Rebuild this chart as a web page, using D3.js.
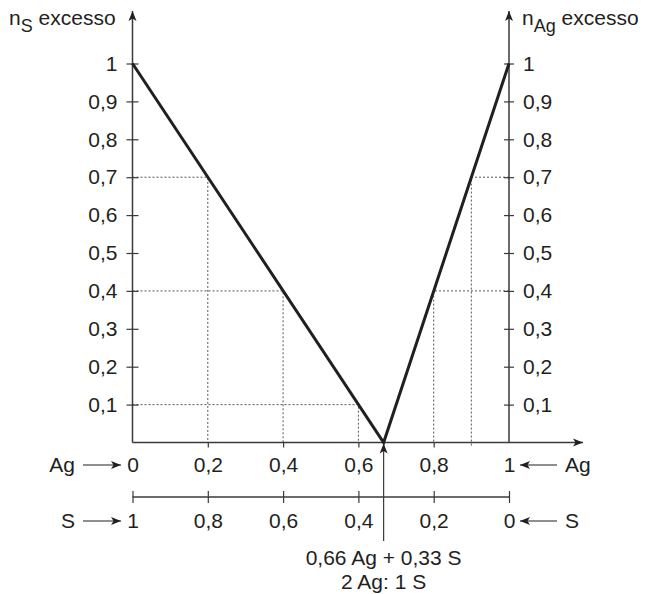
<!DOCTYPE html>
<html>
<head>
<meta charset="utf-8">
<script src="https://cdn.jsdelivr.net/npm/d3@7"></script>
<style>
  body { margin: 0; background: #fff; }
  text { font-family: "Liberation Sans", Arial, Helvetica, sans-serif; font-size: 21px; fill: #231f20; }
</style>
</head>
<body>
<script>

// data
var lineX = [0, 0.667, 1];          // fraction of Ag
var lineY = [1, 0, 1];              // excess amount
var yTicks = [0.1, 0.2, 0.3, 0.4, 0.5, 0.6, 0.7, 0.8, 0.9, 1];
var yTickLabels = ["0,1", "0,2", "0,3", "0,4", "0,5", "0,6", "0,7", "0,8", "0,9", "1"];
var agTicks = [0, 0.2, 0.4, 0.6, 0.8, 1];
var agTickLabels = ["0", "0,2", "0,4", "0,6", "0,8", "1"];
var sTickLabels = ["1", "0,8", "0,6", "0,4", "0,2", "0"];
// dotted guide lines: point on the line, and which y axis it runs to
var guideX = [0.2, 0.4, 0.6, 0.8, 0.9];
var guideY = [0.7, 0.4, 0.1, 0.4, 0.7];
var guideSide = ["left", "left", "left", "right", "right"];
var mixX = 0.667;
var mixLabels = ["0,66 Ag + 0,33 S", "2 Ag: 1 S"];

var W = 645, H = 594;
var x0 = 132.5, x1 = 509;       // left and right axes
var yTop = 63.5, yBase = 442.5;  // y = 1 and y = 0
var sAxisY = 497;

var xScale = d3.scaleLinear().domain([0, 1]).range([x0, x1]);
var yScale = d3.scaleLinear().domain([0, 1]).range([yBase, yTop]);

var svg = d3.select("body").append("svg")
    .attr("width", W)
    .attr("height", H);

var defs = svg.append("defs");
defs.append("marker")
    .attr("id", "arrow")
    .attr("viewBox", "0 0 10 10")
    .attr("refX", 10).attr("refY", 5)
    .attr("markerWidth", 10).attr("markerHeight", 10)
    .attr("markerUnits", "userSpaceOnUse")
    .attr("orient", "auto")
    .append("path")
    .attr("d", "M0,1 L10,5 L0,9 L2.5,5 Z")
    .attr("fill", "#231f20");

var axisColor = "#3a3a3a";

// dotted guides
svg.append("g").selectAll("path")
    .data(guideX.map(function(d, i) { return {x: d, y: guideY[i], side: guideSide[i]}; }))
    .enter().append("path")
    .attr("d", function(d) {
        var xa = d.side == "left" ? xScale(0) : xScale(1);
        var extra = d.x == 0.9 ? 5 : 0;
        return "M" + xa + "," + yScale(d.y) + "H" + xScale(d.x) + "V" + (yScale(0) + extra);
    })
    .attr("fill", "none")
    .attr("stroke", "#555")
    .attr("stroke-width", 1)
    .attr("stroke-dasharray", "2,2");

// left y axis
var yAxisL = d3.axisLeft(yScale).tickValues(yTicks)
    .tickFormat(function(d, i) { return yTickLabels[i]; })
    .tickSize(6).tickPadding(9);
var gl = svg.append("g").attr("transform", "translate(" + x0 + ",0)").call(yAxisL);

// right y axis
var yAxisR = d3.axisRight(yScale).tickValues(yTicks)
    .tickFormat(function(d, i) { return yTickLabels[i]; })
    .tickSize(5).tickPadding(9);
var gr = svg.append("g").attr("transform", "translate(" + x1 + ",0)").call(yAxisR);

// bottom Ag axis
var xAxis = d3.axisBottom(xScale).tickValues(agTicks)
    .tickFormat(function(d, i) { return agTickLabels[i]; })
    .tickSize(5).tickPadding(10);
var gx = svg.append("g").attr("transform", "translate(0," + yBase + ")").call(xAxis);

// S axis
var sAxis = d3.axisBottom(xScale).tickValues(agTicks)
    .tickFormat(function(d, i) { return sTickLabels[i]; })
    .tickSize(6).tickPadding(10);
var gs = svg.append("g").attr("transform", "translate(0," + sAxisY + ")").call(sAxis);

[gl, gr, gx, gs].forEach(function(g) {
    g.select(".domain").remove();
    g.selectAll(".tick line").attr("stroke", axisColor).attr("stroke-width", 1.2);
    g.attr("font-family", null).attr("font-size", null);
});
// ticks crossing the y axes
gl.selectAll(".tick line").attr("x1", 6);
gr.selectAll(".tick line").attr("x1", -5);
gs.selectAll(".tick line").attr("y1", -6);
// no tick under 0 and 1 on the Ag axis
gx.selectAll(".tick line").filter(function(d) { return d == 0 || d == 1; }).remove();

// axis lines
svg.append("line").attr("x1", x0).attr("y1", yBase).attr("x2", x0).attr("y2", 11)
    .attr("stroke", axisColor).attr("stroke-width", 1.5).attr("marker-end", "url(#arrow)");
svg.append("line").attr("x1", x1).attr("y1", yBase).attr("x2", x1).attr("y2", 11)
    .attr("stroke", axisColor).attr("stroke-width", 1.5).attr("marker-end", "url(#arrow)");
svg.append("line").attr("x1", x0).attr("y1", yBase).attr("x2", 583).attr("y2", yBase)
    .attr("stroke", axisColor).attr("stroke-width", 1.5).attr("marker-end", "url(#arrow)");
svg.append("line").attr("x1", x0).attr("y1", sAxisY).attr("x2", x1).attr("y2", sAxisY)
    .attr("stroke", axisColor).attr("stroke-width", 1.5);

// the V line
var line = d3.line()
    .x(function(d) { return xScale(d); })
    .y(function(d, i) { return yScale(lineY[i]); });
svg.append("path")
    .attr("d", line(lineX))
    .attr("fill", "none")
    .attr("stroke", "#231f20")
    .attr("stroke-width", 3)
    .attr("stroke-linejoin", "miter");

// mixture arrow
svg.append("line").attr("x1", xScale(mixX)).attr("y1", 541).attr("x2", xScale(mixX)).attr("y2", yBase + 1)
    .attr("stroke", axisColor).attr("stroke-width", 1.2).attr("marker-end", "url(#arrow)");
svg.selectAll(".mix").data(mixLabels).enter().append("text")
    .attr("class", "mix")
    .attr("x", xScale(mixX))
    .attr("y", function(d, i) { return 565 + i * 24; })
    .attr("text-anchor", "middle")
    .text(function(d) { return d; });

// axis titles
var tl = svg.append("text").attr("x", 9).attr("y", 25);
tl.append("tspan").text("n");
tl.append("tspan").attr("dy", 7).style("font-size", "18px").text("S");
tl.append("tspan").attr("dy", -7).text(" excesso");

var tr = svg.append("text").attr("x", 522).attr("y", 25);
tr.append("tspan").text("n");
tr.append("tspan").attr("dy", 7).style("font-size", "18px").text("Ag");
tr.append("tspan").attr("dy", -7).text(" excesso");

// row labels with arrows
function rowLabel(name, y) {
    svg.append("text").attr("x", 75).attr("y", y).attr("text-anchor", "end").text(name);
    svg.append("line").attr("x1", 83).attr("y1", y - 7).attr("x2", 121).attr("y2", y - 7)
        .attr("stroke", "#231f20").attr("stroke-width", 1.2).attr("marker-end", "url(#arrow)");
    svg.append("text").attr("x", 565).attr("y", y).text(name);
    svg.append("line").attr("x1", 557).attr("y1", y - 7).attr("x2", 520).attr("y2", y - 7)
        .attr("stroke", "#231f20").attr("stroke-width", 1.2).attr("marker-end", "url(#arrow)");
}
rowLabel("Ag", 472);
rowLabel("S", 528);

</script>
</body>
</html>
